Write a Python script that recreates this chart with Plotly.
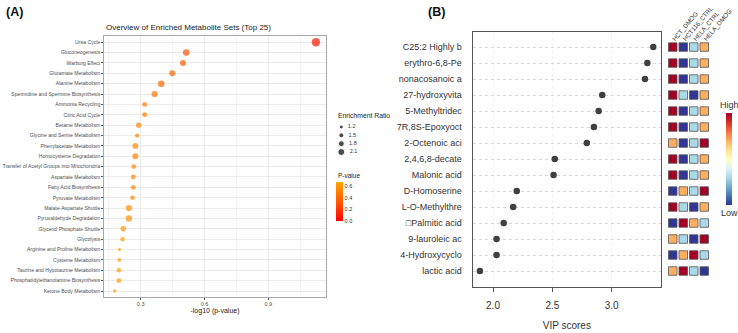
import math
import plotly.graph_objects as go

W, H = 738, 333
FONT = "Liberation Sans"

# ---------------- Panel A data ----------------
pathways = ["Urea Cycle", "Gluconeogenesis", "Warburg Effect", "Glutamate Metabolism",
            "Alanine Metabolism", "Spermidine and Spermine Biosynthesis", "Ammonia Recycling",
            "Citric Acid Cycle", "Betaine Metabolism", "Glycine and Serine Metabolism",
            "Phenylacetate Metabolism", "Homocysteine Degradation",
            "Transfer of Acetyl Groups into Mitochondria", "Aspartate Metabolism",
            "Fatty Acid Biosynthesis", "Pyruvate Metabolism", "Malate-Aspartate Shuttle",
            "Pyruvaldehyde Degradation", "Glycerol Phosphate Shuttle", "Glycolysis",
            "Arginine and Proline Metabolism", "Cysteine Metabolism",
            "Taurine and Hypotaurine Metabolism", "Phosphatidylethanolamine Biosynthesis",
            "Ketone Body Metabolism"]
p_values = [0.0752, 0.306, 0.317, 0.356, 0.401, 0.431, 0.480, 0.480, 0.512, 0.521,
            0.531, 0.531, 0.540, 0.543, 0.543, 0.547, 0.569, 0.569, 0.605, 0.610,
            0.630, 0.632, 0.635, 0.635, 0.664]
enrichment_ratio = [2.5, 1.98, 1.8, 1.8, 1.98, 1.89, 1.5, 1.5, 1.6, 1.3,
                    1.8, 1.8, 1.5, 1.5, 1.5, 1.4, 1.9, 1.9, 1.68, 1.4,
                    1.0, 1.2, 1.4, 1.5, 1.1]
er_breaks = [1.2, 1.5, 1.8, 2.1]
er_break_labels = ["1.2", "1.5", "1.8", "2.1"]
x_ticks_a = [0.3, 0.6, 0.9]
p_ticks = [0.0, 0.2, 0.4, 0.6]

# ---------------- Panel B data ----------------
metabolites = ["C25:2 Highly b", "erythro-6,8-Pe", "nonacosanoic a", "27-hydroxyvita",
               "5-Methyltridec", "7R,8S-Epoxyoct", "2-Octenoic aci", "2,4,6,8-decate",
               "Malonic acid", "D-Homoserine", "L-O-Methylthre", "\u25a1Palmitic acid",
               "9-lauroleic ac", "4-Hydroxycyclo", "lactic acid"]
vip_scores = [3.35, 3.30, 3.28, 2.92, 2.89, 2.85, 2.79, 2.52, 2.51, 2.20, 2.17, 2.09,
              2.03, 2.03, 1.89]
x_ticks_b = [2.0, 2.5, 3.0]

groups = ["HCT_DMOG", "HCT116_CTRL", "HELA_CTRL", "HELA_DMOG"]
hct_dmog = [1.5, 1.5, 1.5, 1.5, 1.5, 1.5, 0.6, 1.5, 1.5, -1.5, 1.5, -1.5, 0.6, -1.5, 0.6]
hct116_ctrl = [-1.5, -1.5, -1.5, -0.6, -1.5, -1.5, -1.5, -1.5, -1.5, 0.6, -0.6, 1.5, -0.6, 0.6, 1.5]
hela_ctrl = [-0.6, -0.6, -0.6, -1.5, -0.6, -0.6, -0.6, -0.6, -0.6, -0.6, -1.5, 0.6, -1.5, 1.5, -0.6]
hela_dmog = [0.6, 0.6, 0.6, 0.6, 0.6, 0.6, 1.5, 0.6, 0.6, 1.5, 0.6, -0.6, 1.5, -0.6, -1.5]

# ---------------- helpers ----------------
def px_x(px):
    return px / W

def px_y(py):
    return 1 - py / H

def er_diameter(er):
    return 3.9 + (er - 1.2) * 3.4

neg_log_p = [-math.log10(p) for p in p_values]

rdylbu_r = [[0.0, "#313695"], [0.1, "#4575b4"], [0.2, "#74add1"], [0.3, "#abd9e9"],
            [0.4, "#e0f3f8"], [0.5, "#ffffbf"], [0.6, "#fee090"], [0.7, "#fdae61"],
            [0.8, "#f46d43"], [0.9, "#d73027"], [1.0, "#a50026"]]

fig = go.Figure()

# Panel A dots
fig.add_trace(go.Scatter(
    x=neg_log_p, y=pathways, mode="markers", xaxis="x", yaxis="y",
    marker=dict(size=[er_diameter(e) for e in enrichment_ratio],
                color=p_values, cmin=0, cmax=0.668,
                colorscale=[[0, "#FF0000"], [0.5, "#FF5A00"], [1, "#FFA500"]],
                line=dict(width=0),
                colorbar=dict(x=px_x(336), xanchor="left", xpad=0,
                              y=px_y(182), yanchor="top", ypad=0,
                              lenmode="pixels", len=39, thickness=7,
                              outlinewidth=0, ticks="", tickvals=p_ticks,
                              ticktext=[f"{v:.1f}" for v in p_ticks],
                              tickfont=dict(size=5.5, color="#333", family=FONT))),
    showlegend=False, hoverinfo="skip"))

# Size legend (drawn on its own small axes)
fig.add_trace(go.Scatter(
    x=["ER"] * len(er_breaks), y=er_break_labels, xaxis="x4", yaxis="y4",
    mode="markers+text", text=["  " + t for t in er_break_labels],
    textposition="middle right", textfont=dict(size=5.5, color="#333", family=FONT),
    marker=dict(size=[er_diameter(e) for e in er_breaks], color="black"),
    cliponaxis=False, showlegend=False, hoverinfo="skip"))

# Panel B dots
fig.add_trace(go.Scatter(
    x=vip_scores, y=metabolites, mode="markers", xaxis="x2", yaxis="y2",
    marker=dict(size=6.5, color="#404040"), showlegend=False, hoverinfo="skip"))

# Panel B heatmap squares
hx, hy, hz = [], [], []
for g, col in zip(groups, [hct_dmog, hct116_ctrl, hela_ctrl, hela_dmog]):
    for m, v in zip(metabolites, col):
        hx.append(g)
        hy.append(m)
        hz.append(v)
fig.add_trace(go.Scatter(
    x=hx, y=hy, mode="markers", xaxis="x3", yaxis="y3",
    marker=dict(symbol="square", size=8.5, color=hz, cmin=-1.5, cmax=1.5,
                colorscale=rdylbu_r, line=dict(width=0.8, color="#555555"),
                colorbar=dict(x=px_x(726), xanchor="left", xpad=0,
                              y=px_y(113), yanchor="top", ypad=0,
                              lenmode="pixels", len=92, thickness=6,
                              outlinewidth=0, ticks="", showticklabels=False)),
    cliponaxis=False, showlegend=False, hoverinfo="skip"))

grid = "#EBEBEB"
fig.update_layout(
    width=W, height=H, autosize=False,
    margin=dict(l=0, r=0, t=0, b=0),
    paper_bgcolor="white", plot_bgcolor="white",
    template="none",
    font=dict(family=FONT, color="#333"),
    xaxis=dict(domain=[px_x(104.3), px_x(325.7)], range=[0.129, 1.170], anchor="y",
               tickvals=x_ticks_a, ticktext=[f"{v:.1f}" for v in x_ticks_a],
               tickfont=dict(size=5.5, color="#4D4D4D"), ticks="outside", ticklen=2,
               tickcolor="#555", tickwidth=0.6,
               showgrid=True, gridcolor=grid, gridwidth=0.8, zeroline=False,
               minor=dict(dtick=0.15, tick0=0, showgrid=True, gridcolor="#F4F4F4",
                          gridwidth=0.5),
               showline=True, mirror=True, linecolor="#A8A8A8", linewidth=1,
               title=dict(text="-log10 (p-value)", standoff=1,
                          font=dict(size=7, color="#222"))),
    yaxis=dict(domain=[px_y(296.7), px_y(36)], anchor="x", type="category",
               categoryorder="array", categoryarray=pathways, range=[24.55, -0.6],
               tickfont=dict(size=5.1, color="#4D4D4D"), ticks="outside", ticklen=2,
               tickcolor="#555", tickwidth=0.6,
               showgrid=True, gridcolor=grid, gridwidth=0.8, zeroline=False,
               showline=True, mirror=True, linecolor="#A8A8A8", linewidth=1),
    xaxis2=dict(domain=[px_x(472.7), px_x(661)], range=[1.829, 3.415], anchor="y2",
                tickvals=x_ticks_b, ticktext=[f"{v:.1f}" for v in x_ticks_b],
                tickfont=dict(size=10, color="#333"), ticks="outside", ticklen=4,
                ticklabelstandoff=5,
                tickcolor="#555", showgrid=True, gridcolor="#F2F2F2", griddash="dot",
                gridwidth=0.8, zeroline=False,
                showline=True, mirror=True, linecolor="#555555", linewidth=1.2,
                title=dict(text="VIP scores", standoff=12, font=dict(size=10, color="#333"))),
    yaxis2=dict(domain=[px_y(286.7), px_y(31.7)], anchor="x2", type="category",
                categoryorder="array", categoryarray=metabolites, range=[14.98, -0.96],
                tickfont=dict(size=9, color="#333"), ticks="", ticklabelstandoff=8,
                showgrid=True, gridcolor="#D6D6D6", griddash="dot", gridwidth=0.8,
                zeroline=False, showline=True, mirror=True, linecolor="#555555",
                linewidth=1.2),
    xaxis3=dict(domain=[px_x(667.5), px_x(709.5)], range=[-0.5, 3.5], type="category",
                categoryorder="array", categoryarray=groups, anchor="free",
                position=px_y(44), side="top", tickangle=-50,
                tickfont=dict(size=6.3, color="#333"), ticks="", showgrid=False,
                zeroline=False, showline=False),
    yaxis3=dict(domain=[px_y(286.7), px_y(31.7)], anchor="x3", type="category",
                categoryorder="array", categoryarray=metabolites, range=[14.98, -0.96],
                showticklabels=False, ticks="", showgrid=False, zeroline=False,
                showline=False),
    xaxis4=dict(domain=[px_x(336), px_x(346.6)], range=[-0.5, 0.5], type="category",
                anchor="y4", visible=False),
    yaxis4=dict(domain=[px_y(156.2), px_y(122.8)], range=[3.5, -0.5], type="category",
                categoryorder="array", categoryarray=er_break_labels, anchor="x4",
                visible=False),
    annotations=[
        dict(text="<b>(A)</b>", x=px_x(4), y=px_y(12), xref="paper", yref="paper",
             xanchor="left", yanchor="middle", showarrow=False,
             font=dict(size=12.5, color="#111")),
        dict(text="<b>(B)</b>", x=px_x(426), y=px_y(12), xref="paper", yref="paper",
             xanchor="left", yanchor="middle", showarrow=False,
             font=dict(size=12.5, color="#111")),
        dict(text="Overview of Enriched Metabolite Sets (Top 25)", x=0, y=px_y(28),
             xref="x domain", yref="paper", xanchor="left", yanchor="middle",
             showarrow=False, font=dict(size=8, color="#222")),
        dict(text="Enrichment Ratio", x=px_x(336), y=px_y(116), xref="paper",
             yref="paper", xanchor="left", yanchor="middle", showarrow=False,
             font=dict(size=6.8, color="#222")),
        dict(text="P-value", x=px_x(336), y=px_y(175), xref="paper",
             yref="paper", xanchor="left", yanchor="middle", showarrow=False,
             font=dict(size=6.5, color="#222")),
        dict(text="High", x=px_x(729), y=px_y(105), xref="paper", yref="paper",
             xanchor="center", yanchor="middle", showarrow=False,
             font=dict(size=9, color="#333")),
        dict(text="Low", x=px_x(729), y=px_y(213), xref="paper", yref="paper",
             xanchor="center", yanchor="middle", showarrow=False,
             font=dict(size=9, color="#333")),
    ],
)

fig.write_html("out.html", config={"displayModeBar": False},
               post_script="document.body.style.margin='0';document.body.style.overflow='hidden';")
